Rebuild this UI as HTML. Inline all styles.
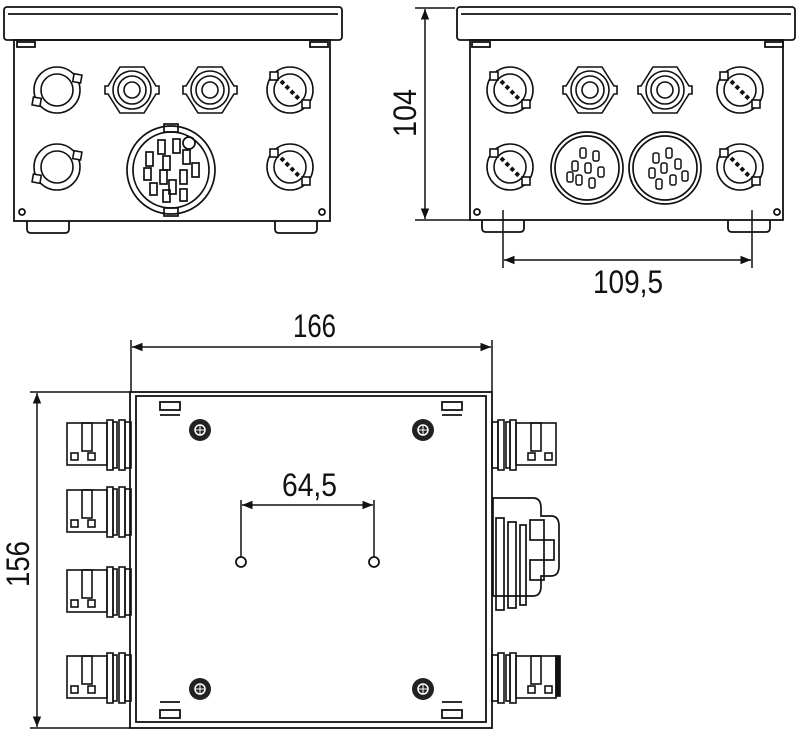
<!DOCTYPE html>
<html><head><meta charset="utf-8"><style>
html,body{margin:0;padding:0;background:#fff}
svg{display:block}
text{font-family:"Liberation Sans Narrow","Liberation Sans",sans-serif;font-size:32px;fill:#111}
</style></head><body>
<svg width="800" height="735" viewBox="0 0 800 735" xmlns="http://www.w3.org/2000/svg">
<defs>
<marker id="ar" viewBox="0 0 10 10" refX="10" refY="5" markerWidth="9" markerHeight="7" orient="auto-start-reverse"><path d="M0,1 L10,5 L0,9 z" fill="#111"/></marker>
<g id="gl" fill="none" stroke="#111" stroke-width="1.6">
<circle r="23"/><circle r="16"/>
<rect x="14" y="-19" width="8" height="8" fill="#fff" transform="rotate(10)"/>
<rect x="-22" y="11" width="8" height="8" fill="#fff" transform="rotate(10)"/>
</g>
<g id="gd" fill="none" stroke="#111" stroke-width="1.6">
<circle r="23"/><circle r="16"/>
<rect x="-20" y="-18" width="8" height="8" fill="#fff"/>
<rect x="12" y="10" width="8" height="8" fill="#fff"/>
<line x1="-9" y1="-9" x2="9" y2="9" stroke-width="4" stroke-dasharray="4 3"/>
</g>
<g id="nut" fill="none" stroke="#111" stroke-width="1.6">
<path d="M-12,-23 L12,-23 L24,-4 L27,-4 L27,4 L24,4 L12,23 L-12,23 L-24,4 L-27,4 L-27,-4 L-24,-4 Z"/>
<circle r="19"/><circle r="14"/><circle r="8"/>
</g>
<g id="scr"><circle r="11" fill="#222"/><circle r="5" fill="none" stroke="#fff" stroke-width="1.5"/><line x1="-5" y1="0" x2="5" y2="0" stroke="#fff"/><line x1="0" y1="-5" x2="0" y2="5" stroke="#fff"/></g>
<g id="cl" fill="none" stroke="#111" stroke-width="1.6">
<rect x="0" y="3" width="40" height="42"/><rect x="15" y="3" width="10" height="28"/>
<rect x="4" y="33" width="7" height="7"/><rect x="21" y="33" width="7" height="7"/>
<rect x="40" y="0" width="6" height="50"/><rect x="46" y="2" width="4" height="46"/><rect x="52" y="0" width="6" height="50"/><rect x="58" y="2" width="6" height="46"/>
</g>
<g id="pin" fill="none" stroke="#111" stroke-width="1.5"><rect x="-3" y="-5" width="6" height="10" rx="2"/></g>
</defs>

<g fill="none" stroke="#111" stroke-width="1.8">
<rect x="4" y="7" width="338" height="33" rx="3"/><line x1="8" y1="14" x2="338" y2="14"/>
<rect x="14" y="40" width="316" height="181"/>
<rect x="17" y="42" width="18" height="5"/><rect x="310" y="42" width="18" height="5"/>
<circle cx="22" cy="212" r="3"/><circle cx="322" cy="212" r="3"/>
<path d="M27,221 v8 q0,4 4,4 h34 q4,0 4,-4 v-8"/><path d="M275,221 v8 q0,4 4,4 h34 q4,0 4,-4 v-8"/>
<rect x="457" y="7" width="338" height="33" rx="3"/><line x1="461" y1="14" x2="791" y2="14"/>
<rect x="470" y="40" width="313" height="180"/>
<rect x="472" y="42" width="18" height="5"/><rect x="765" y="42" width="18" height="5"/>
<circle cx="477" cy="212" r="3"/><circle cx="777" cy="212" r="3"/>
<path d="M482,220 v8 q0,4 4,4 h34 q4,0 4,-4 v-8"/><path d="M728,220 v8 q0,4 4,4 h34 q4,0 4,-4 v-8"/>
</g>
<use href="#gl" x="57" y="90"/><use href="#nut" x="132" y="90"/><use href="#nut" x="210" y="90"/><use href="#gd" x="290" y="90"/>
<use href="#gl" x="57" y="167"/><use href="#gd" x="290" y="167"/>
<g fill="none" stroke="#111" stroke-width="1.7">
<circle cx="171" cy="170" r="44"/><circle cx="171" cy="170" r="38"/>
<rect x="164" y="124" width="14" height="8"/><rect x="164" y="208" width="14" height="8"/>
<rect x="158" y="140" width="7" height="14"/><rect x="173" y="139" width="7" height="14"/><rect x="146" y="152" width="7" height="14"/><rect x="163" y="156" width="7" height="14"/><rect x="183" y="150" width="7" height="14"/><rect x="144" y="168" width="7" height="12"/><rect x="160" y="170" width="7" height="14"/><rect x="180" y="170" width="7" height="14"/><rect x="192" y="163" width="7" height="14"/><rect x="150" y="183" width="7" height="12"/><rect x="169" y="180" width="7" height="14"/><rect x="163" y="190" width="7" height="12"/><rect x="180" y="189" width="7" height="12"/><circle cx="189" cy="143" r="6"/>
</g>
<use href="#gd" x="510" y="90"/><use href="#nut" x="590" y="90"/><use href="#nut" x="665" y="90"/><use href="#gd" x="740" y="90"/>
<use href="#gd" x="510" y="167"/><use href="#gd" x="740" y="167"/>
<g fill="none" stroke="#111" stroke-width="1.7">
<circle cx="587" cy="168" r="36"/><circle cx="587" cy="168" r="32"/>
<circle cx="665" cy="168" r="36"/><circle cx="665" cy="168" r="32"/>
</g>
<g>
<use href="#pin" x="583" y="153"/><use href="#pin" x="596" y="156"/><use href="#pin" x="575" y="166"/><use href="#pin" x="588" y="168"/><use href="#pin" x="601" y="172"/><use href="#pin" x="579" y="180"/><use href="#pin" x="592" y="183"/><use href="#pin" x="570" y="177"/>
<use href="#pin" x="669" y="153"/><use href="#pin" x="656" y="158"/><use href="#pin" x="678" y="164"/><use href="#pin" x="664" y="168"/><use href="#pin" x="652" y="173"/><use href="#pin" x="673" y="180"/><use href="#pin" x="659" y="184"/><use href="#pin" x="685" y="176"/>
</g>
<g stroke="#111" stroke-width="1.5" fill="none">
<line x1="415" y1="8" x2="455" y2="8"/><line x1="415" y1="220" x2="470" y2="220"/>
<line x1="425" y1="9" x2="425" y2="219" marker-start="url(#ar)" marker-end="url(#ar)"/>
<line x1="503" y1="210" x2="503" y2="268"/><line x1="752" y1="210" x2="752" y2="268"/>
<line x1="504" y1="260" x2="751" y2="260" marker-start="url(#ar)" marker-end="url(#ar)"/>
</g>
<text x="380" y="125" textLength="48" lengthAdjust="spacingAndGlyphs" transform="rotate(-90 404 113)" dx="0" dy="0" style="" >104</text>
<text x="593" y="293" textLength="70" lengthAdjust="spacingAndGlyphs">109,5</text>

<g fill="none" stroke="#111" stroke-width="1.8">
<rect x="130" y="392" width="362" height="336"/><rect x="136" y="396" width="350" height="326"/>
<rect x="160" y="402" width="20" height="8"/><line x1="160" y1="415" x2="180" y2="415"/>
<rect x="442" y="402" width="20" height="8"/><line x1="442" y1="415" x2="462" y2="415"/>
<rect x="160" y="710" width="20" height="8"/><line x1="160" y1="702" x2="180" y2="702"/>
<rect x="442" y="710" width="20" height="8"/><line x1="442" y1="702" x2="462" y2="702"/>
<circle cx="241" cy="562" r="5"/><circle cx="374" cy="562" r="5"/>
</g>
<use href="#scr" x="200" y="430"/><use href="#scr" x="423" y="430"/><use href="#scr" x="200" y="689"/><use href="#scr" x="423" y="689"/>
<use href="#cl" x="67" y="420"/><use href="#cl" x="67" y="487"/><use href="#cl" x="67" y="567"/><use href="#cl" x="67" y="653"/>
<g transform="translate(556,0) scale(-1,1)"><use href="#cl" x="0" y="420"/><use href="#cl" x="0" y="653"/></g>
<g fill="none" stroke="#111" stroke-width="1.7">
<path d="M493,498 h40 q8,0 8,10 v8 h10 q8,0 8,10 v40 q0,10 -8,10 h-10 v10 q0,10 -8,10 h-40 z"/>
<rect x="496" y="518" width="8" height="92"/><rect x="508" y="522" width="8" height="86"/><rect x="520" y="525" width="6" height="80"/>
<rect x="530" y="520" width="14" height="20"/><rect x="530" y="560" width="14" height="20"/><rect x="544" y="540" width="10" height="20"/>
<rect x="556" y="656" width="4" height="40" fill="#111"/>
</g>
<g stroke="#111" stroke-width="1.5" fill="none">
<line x1="131" y1="340" x2="131" y2="392"/><line x1="492" y1="340" x2="492" y2="392"/>
<line x1="132" y1="347" x2="491" y2="347" marker-start="url(#ar)" marker-end="url(#ar)"/>
<line x1="30" y1="392" x2="130" y2="392"/><line x1="30" y1="728" x2="130" y2="728"/>
<line x1="37" y1="393" x2="37" y2="727" marker-start="url(#ar)" marker-end="url(#ar)"/>
<line x1="241" y1="500" x2="241" y2="557"/><line x1="374" y1="500" x2="374" y2="557"/>
<line x1="242" y1="505" x2="373" y2="505" marker-start="url(#ar)" marker-end="url(#ar)"/>
</g>
<text x="293" y="337" textLength="43" lengthAdjust="spacingAndGlyphs">166</text>
<text x="282" y="496" textLength="55" lengthAdjust="spacingAndGlyphs">64,5</text>
<text x="541" y="29" textLength="46" lengthAdjust="spacingAndGlyphs" transform="rotate(-90 0 0) translate(-1128,0)">156</text>
</svg>
</body></html>
